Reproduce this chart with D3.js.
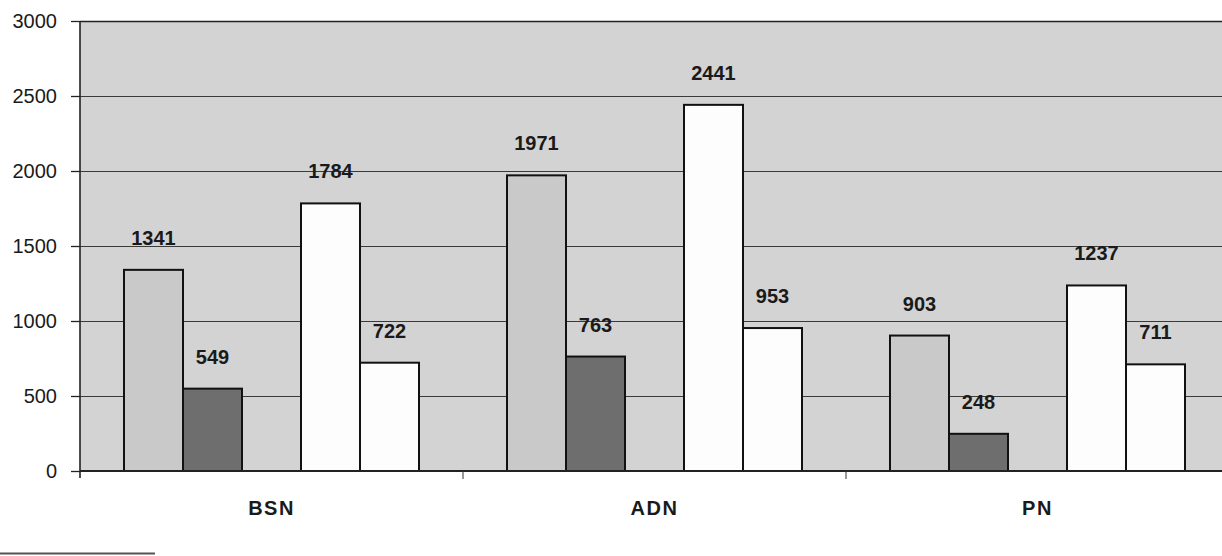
<!DOCTYPE html>
<html>
<head>
<meta charset="utf-8">
<script src="https://cdn.jsdelivr.net/npm/d3@7"></script>
<style>
  body { margin: 0; background: #fff; }
  svg { display: block; font-family: "Liberation Sans", Arial, sans-serif; }
</style>
</head>
<body>
<div id="chart"></div>
<script>
  // data
  categories = ["BSN", "ADN", "PN"]
  series1 = [1341, 1971, 903]
  series2 = [549, 763, 248]
  series3 = [1784, 2441, 1237]
  series4 = [722, 953, 711]
  yTicks = [0, 500, 1000, 1500, 2000, 2500, 3000]

  canvas = ({width: 1222, height: 556})
  margin = ({top: 21, right: -7, bottom: 85, left: 80})

  // slot "gap" stays empty, as in the original
  slots = ["s1", "s2", "gap", "s3", "s4"]
  fills = {s1: "#c9c9c9", s2: "#6e6e6e", s3: "#fdfdfd", s4: "#fdfdfd"}

  rows = categories.map((c, i) => ({
    cat: c,
    vals: [
      {key: "s1", v: series1[i]},
      {key: "s2", v: series2[i]},
      {key: "s3", v: series3[i]},
      {key: "s4", v: series4[i]}
    ]
  }))

  x0 = d3.scaleBand()
    .domain(categories)
    .range([margin.left, canvas.width - margin.right])

  x1 = d3.scaleBand()
    .domain(slots)
    .range([44, x0.bandwidth() - 44])

  y = d3.scaleLinear()
    .domain([0, 3000])
    .range([canvas.height - margin.bottom, margin.top])

  svg = d3.select("#chart").append("svg")
    .attr("width", canvas.width)
    .attr("height", canvas.height)

  // plot background
  svg.append("rect")
    .attr("x", margin.left)
    .attr("y", y(3000))
    .attr("width", canvas.width - margin.right - margin.left)
    .attr("height", y(0) - y(3000))
    .attr("fill", "#d3d3d3")

  // grid
  svg.append("g").selectAll("line")
    .data(yTicks.slice(1))
    .join("line")
    .attr("x1", margin.left)
    .attr("x2", canvas.width - margin.right)
    .attr("y1", d => Math.round(y(d)) + 0.5)
    .attr("y2", d => Math.round(y(d)) + 0.5)
    .attr("stroke", d => d == 3000 ? "#222" : "#3a3a3a")
    .attr("stroke-width", d => d == 3000 ? 1.6 : 1.1)

  // bars
  g = svg.append("g").selectAll("g")
    .data(rows)
    .join("g")
    .attr("transform", d => `translate(${x0(d.cat)},0)`)

  g.selectAll("rect")
    .data(d => d.vals)
    .join("rect")
    .attr("x", d => x1(d.key))
    .attr("y", d => y(d.v))
    .attr("width", x1.bandwidth())
    .attr("height", d => y(0) - y(d.v))
    .attr("fill", d => fills[d.key])
    .attr("stroke", "#111")
    .attr("stroke-width", 2)

  g.selectAll("text")
    .data(d => d.vals)
    .join("text")
    .attr("x", d => x1(d.key) + x1.bandwidth() / 2)
    .attr("y", d => y(d.v) - 25)
    .attr("text-anchor", "middle")
    .attr("font-size", 20)
    .attr("font-weight", "bold")
    .attr("fill", "#1a1a1a")
    .text(d => d.v)

  // y axis
  yAxis = svg.append("g")
    .attr("transform", `translate(${margin.left},0)`)
    .call(d3.axisLeft(y).tickValues(yTicks).tickFormat(d3.format("d"))
      .tickSize(9).tickPadding(14).tickSizeOuter(0))
  yAxis.select(".domain").remove()
  yAxis.selectAll("line").attr("stroke", "#222").attr("stroke-width", 1.3)
  yAxis.selectAll("text").attr("font-size", 20).attr("fill", "#1a1a1a")
    .attr("font-family", "'Liberation Sans', Arial, sans-serif")

  svg.append("line")
    .attr("x1", margin.left).attr("x2", margin.left)
    .attr("y1", y(3000)).attr("y2", y(0) + 7)
    .attr("stroke", "#222").attr("stroke-width", 1.6)

  // x axis
  svg.append("line")
    .attr("x1", margin.left).attr("x2", canvas.width - margin.right)
    .attr("y1", y(0)).attr("y2", y(0))
    .attr("stroke", "#222").attr("stroke-width", 2)

  svg.append("g").selectAll("line")
    .data(categories.slice(1))
    .join("line")
    .attr("x1", d => x0(d)).attr("x2", d => x0(d))
    .attr("y1", y(0)).attr("y2", y(0) + 8)
    .attr("stroke", "#333").attr("stroke-width", 1)

  svg.append("g").selectAll("text")
    .data(categories)
    .join("text")
    .attr("x", d => x0(d) + x0.bandwidth() / 2)
    .attr("y", y(0) + 44)
    .attr("text-anchor", "middle")
    .attr("font-size", 20)
    .attr("font-weight", "bold")
    .attr("letter-spacing", 1.5)
    .attr("fill", "#1a1a1a")
    .text(d => d)

  // scan edge at the bottom left
  svg.append("line")
    .attr("x1", 0).attr("x2", 155)
    .attr("y1", 553.5).attr("y2", 553.5)
    .attr("stroke", "#555").attr("stroke-width", 2)
</script>
</body>
</html>
